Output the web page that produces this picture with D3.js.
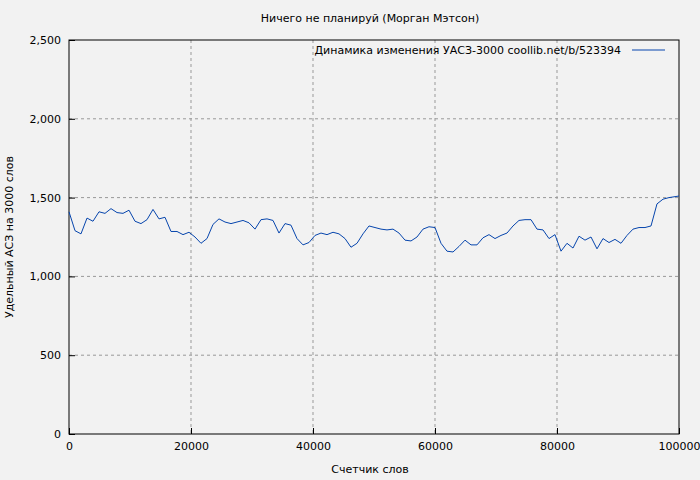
<!DOCTYPE html><html><head><meta charset="utf-8"><script src="https://cdn.jsdelivr.net/npm/d3@7"></script>
<style>body{margin:0;background:#f2f2f2}</style></head><body><svg id="c" width="700" height="480"></svg><script>
const xVals=[0,984,1967,2951,3934,4918,5902,6885,7869,8852,9836,10820,11803,12787,13770,14754,15738,16721,17705,18689,19672,20656,21639,22623,23607,24590,25574,26557,27541,28525,29508,30492,31475,32459,33443,34426,35410,36393,37377,38361,39344,40328,41311,42295,43279,44262,45246,46229,47213,48197,49180,50164,51148,52131,53115,54098,55082,56066,57049,58033,59016,60000,60984,61967,62951,63934,64918,65902,66885,67869,68852,69836,70820,71803,72787,73770,74754,75738,76721,77705,78689,79672,80656,81639,82623,83607,84590,85574,86557,87541,88525,89508,90492,91475,92459,93443,94426,95410,96393,97377,98361,100000];
const yVals=[1410,1290,1270,1370,1350,1410,1400,1430,1405,1400,1420,1350,1335,1360,1425,1365,1375,1285,1285,1265,1280,1250,1210,1240,1330,1365,1345,1335,1345,1355,1340,1300,1360,1365,1355,1275,1335,1325,1240,1200,1215,1260,1275,1265,1280,1270,1240,1185,1210,1270,1320,1310,1300,1295,1300,1275,1230,1225,1250,1300,1315,1310,1210,1160,1155,1190,1230,1200,1200,1245,1265,1240,1260,1275,1320,1355,1360,1360,1300,1295,1240,1265,1160,1210,1180,1255,1230,1250,1175,1240,1215,1235,1210,1260,1300,1310,1310,1320,1460,1490,1500,1510];
const xTicks=[0,20000,40000,60000,80000,100000];
const yTicks=[0,500,1000,1500,2000,2500];
const title="Ничего не планируй (Морган Мэтсон)";
const legend="Динамика изменения УАСЗ-3000  coollib.net/b/523394";
const svg=d3.select("#c").style("font-family","DejaVu Sans").style("font-size","11px");
svg.append("rect").attr("width",700).attr("height",480).attr("fill","#f2f2f2");
const L=69,R=679,T=40,B=434;
const x=d3.scaleLinear().domain([0,100000]).range([L,R]);
const y=d3.scaleLinear().domain([0,2500]).range([B,T]);
const g=svg.append("g");
g.selectAll(".gx").data(xTicks.slice(1,-1)).join("line").attr("x1",d=>x(d)).attr("x2",d=>x(d)).attr("y1",T).attr("y2",B).attr("stroke","#999").attr("stroke-dasharray","3,3");
g.selectAll(".gy").data(yTicks.slice(1,-1)).join("line").attr("y1",d=>y(d)).attr("y2",d=>y(d)).attr("x1",L).attr("x2",R).attr("stroke","#999").attr("stroke-dasharray","3,3");
svg.append("rect").attr("x",L).attr("y",T).attr("width",R-L).attr("height",B-T).attr("fill","none").attr("stroke","#000");
const ax=svg.append("g").attr("transform",`translate(0,${B})`).call(d3.axisBottom(x).tickValues(xTicks).tickFormat(d3.format("d")).tickSizeInner(-6).tickSizeOuter(0).tickPadding(8));
const ay=svg.append("g").attr("transform",`translate(${L},0)`).call(d3.axisLeft(y).tickValues(yTicks).tickSizeInner(-6).tickSizeOuter(0).tickPadding(8));
[ax,ay].forEach(a=>{a.select(".domain").remove();a.selectAll("text").attr("font-family","DejaVu Sans").attr("font-size","11px").attr("fill","#000");a.selectAll("line").attr("stroke","#000")});
svg.append("path").datum(xVals.map((v,i)=>[v,yVals[i]])).attr("fill","none").attr("stroke","#0645ad").attr("stroke-width",1).attr("d",d3.line().x(d=>x(d[0])).y(d=>y(d[1])));
svg.append("text").attr("x",370).attr("y",22).attr("text-anchor","middle").text(title);
svg.append("text").attr("x",370).attr("y",473).attr("text-anchor","middle").text("Счетчик слов");
svg.append("text").attr("transform","translate(13,237) rotate(-90)").attr("text-anchor","middle").text("Удельный АСЗ на 3000 слов");
svg.append("text").attr("x",621).attr("y",54).attr("text-anchor","end").text(legend);
svg.append("line").attr("x1",632).attr("x2",665).attr("y1",50).attr("y2",50).attr("stroke","#0645ad");
</script></body></html>
